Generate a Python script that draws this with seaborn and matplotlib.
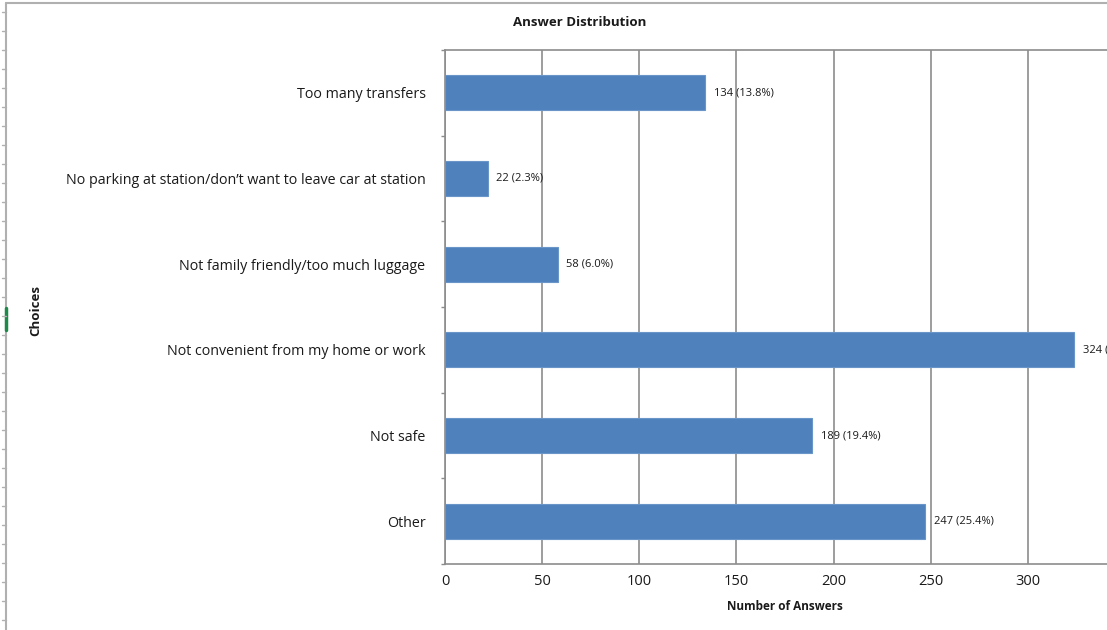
import seaborn as sns
import matplotlib.pyplot as plt
from matplotlib.lines import Line2D
import pandas as pd

# Data
choices = [
    "Too many transfers",
    "No parking at station/don\u2019t want to leave car at station",
    "Not family friendly/too much luggage",
    "Not convenient from my home or work",
    "Not safe",
    "Other",
]
answers = [134, 22, 58, 324, 189, 247]
percents = ["13.8%", "2.3%", "6.0%", "33.3%", "19.4%", "25.4%"]
x_ticks = [0, 50, 100, 150, 200, 250, 300]

df = pd.DataFrame({"Choices": choices, "Number of Answers": answers})

sns.set_theme(style="white")
plt.rcParams["font.family"] = ["Open Sans", "DejaVu Sans"]

W, H = 1107, 630
fig = plt.figure(figsize=(W / 100, H / 100), dpi=100)
ax = fig.add_axes([445 / W, (H - 564) / H, 680 / W, 514 / H])

sns.barplot(data=df, x="Number of Answers", y="Choices", color="#4f81bd",
            width=0.41, saturation=1, errorbar=None, ax=ax, zorder=3,
            edgecolor="#6a95c8", linewidth=0.8)

ax.set_xlim(0, 350)
ax.set_xticks(x_ticks)
ax.set_ylim(len(choices) - 0.5, -0.5)
ax.grid(axis="x", color="#8c8c8c", linewidth=1.2, zorder=0)
ax.set_axisbelow(True)

ax.spines["right"].set_visible(False)
for s in ["left", "bottom", "top"]:
    ax.spines[s].set_color("#8c8c8c")
    ax.spines[s].set_linewidth(1.2)

ax.tick_params(axis="x", which="major", direction="inout", length=7, width=1,
               color="#8c8c8c", labelsize=10.5, labelcolor="#1a1a1a", pad=4)
ax.tick_params(axis="y", which="major", length=0, labelsize=10.3,
               labelcolor="#1a1a1a", pad=14)
ax.set_yticks([i - 0.5 for i in range(len(choices) + 1)], minor=True)
ax.tick_params(axis="y", which="minor", length=3, width=1, color="#8c8c8c",
               direction="out", left=True)

for i, (v, p) in enumerate(zip(answers, percents)):
    ax.text(v + 4.5, i, f"{v} ({p})", va="center", ha="left", fontsize=8,
            color="#1a1a1a", clip_on=False)

ax.set_xlabel("")
ax.set_ylabel("")
fig.text(580 / W, 1 - 22 / H, "Answer Distribution", ha="center", va="center",
         fontsize=9.5, fontweight="bold", color="#1a1a1a")
fig.text(785 / W, 1 - 607 / H, "Number of Answers", ha="center", va="center",
         fontsize=8.5, fontweight="bold", color="#1a1a1a")
fig.text(36 / W, 1 - 310 / H, "Choices", ha="center", va="center", rotation=90,
         fontsize=9.5, fontweight="bold", color="#1a1a1a")

# spreadsheet frame remnants around the chart object
fig.add_artist(Line2D([6 / W, 6 / W], [0, 1 - 3 / H], color="#b0b0b0", lw=1.5))
fig.add_artist(Line2D([6 / W, 1], [1 - 3 / H, 1 - 3 / H], color="#b0b0b0", lw=1.5))
fig.add_artist(Line2D([6 / W, 6 / W], [1 - 330 / H, 1 - 308 / H], color="#1e8a4a", lw=2.5))
for yy in range(12, 630, 19):
    fig.add_artist(Line2D([2 / W, 6 / W], [1 - yy / H, 1 - yy / H], color="#b0b0b0", lw=1))

fig.savefig("out.png", dpi=100)
